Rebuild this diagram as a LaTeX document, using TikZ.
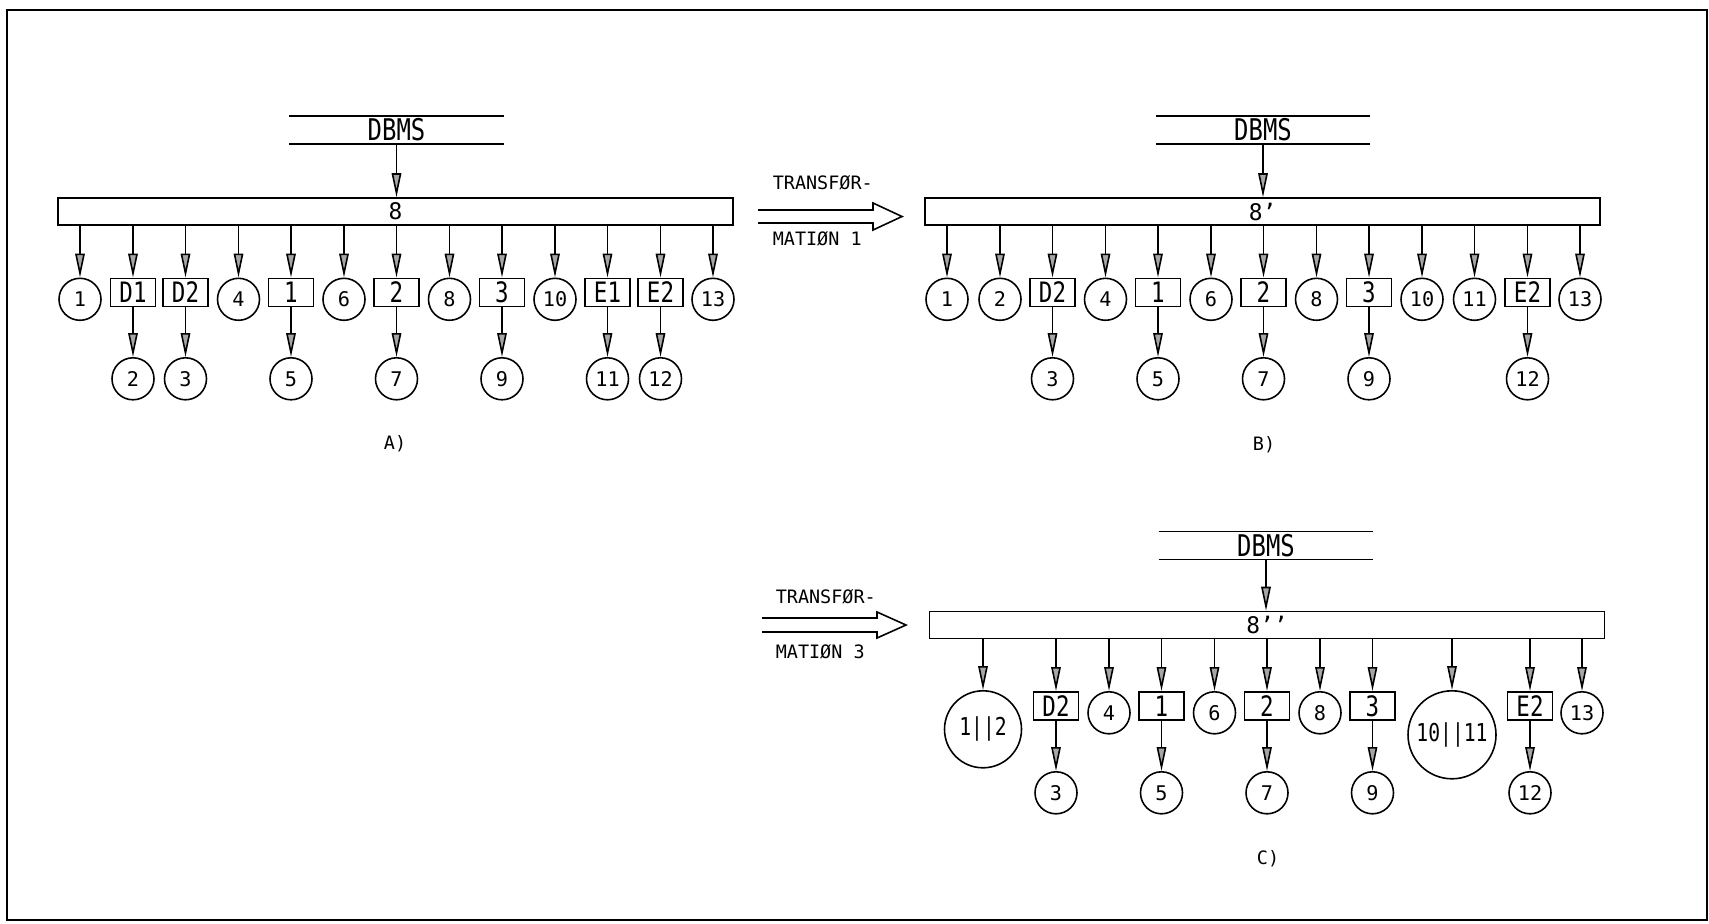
\documentclass[tikz,border=0pt]{standalone}
\usepackage{fontspec}
\usepackage{tikz}
\usetikzlibrary{arrows.meta}
\setmainfont{DejaVu Sans Mono}
\newfontfamily\tallfont{DejaVu Sans Mono}[FakeStretch=0.8]

\begin{document}
\begin{tikzpicture}[line width=0.9pt,
    obj/.style={draw,circle,minimum size=0.84cm,inner sep=0pt,anchor=north,font=\fontsize{11.5}{11.5}\selectfont},
    big/.style={obj,minimum size=1.54cm,font=\tallfont\fontsize{14}{14}\selectfont},
    blk/.style={draw,minimum width=0.9cm,minimum height=0.56cm,inner sep=0pt,anchor=north,font=\tallfont\fontsize{16}{16}\selectfont},
    bus/.style={draw,minimum width=13.5cm,minimum height=0.54cm,inner sep=0pt,font=\fontsize{13}{13}\selectfont},
    store/.style={minimum width=4.26cm,minimum height=0.53cm,inner sep=0pt,font=\tallfont\fontsize{17}{17}\selectfont},
    note/.style={inner sep=0pt,font=\fontsize{10.5}{10.5}\selectfont},
    lnk/.style={-{Triangle[length=0.48cm,width=0.19cm,fill=gray!70]}}]
        \useasboundingbox (0,0) rectangle (34.18,-18.46);
        \draw[line width=1.3pt] (0.14,-0.2) rectangle (34.14,-18.4);

        % A)
        \node[store] (adb) at (7.93,-2.6) {DBMS};
        \draw (adb.north west) -- (adb.north east) (adb.south west) -- (adb.south east);
        \node[bus] (abus) at (7.91,-4.23) {8};
        \draw[lnk] (adb.south) -- (adb.south |- abus.north);
        \node[obj] (a1) at (1.6,-5.55) {1};
        \node[blk] (ad1) at (2.66,-5.55) {D1};
        \node[blk] (ad2) at (3.71,-5.55) {D2};
        \node[obj] (a4) at (4.77,-5.55) {4};
        \node[blk] (ab1) at (5.82,-5.55) {1};
        \node[obj] (a6) at (6.88,-5.55) {6};
        \node[blk] (ab2) at (7.93,-5.55) {2};
        \node[obj] (a8) at (8.99,-5.55) {8};
        \node[blk] (ab3) at (10.04,-5.55) {3};
        \node[obj] (a10) at (11.1,-5.55) {10};
        \node[blk] (ae1) at (12.15,-5.55) {E1};
        \node[blk] (ae2) at (13.21,-5.55) {E2};
        \node[obj] (a13) at (14.26,-5.55) {13};
        \node[obj] (a2) at (2.66,-7.14) {2};
        \node[obj] (a3) at (3.71,-7.14) {3};
        \node[obj] (a5) at (5.82,-7.14) {5};
        \node[obj] (a7) at (7.93,-7.14) {7};
        \node[obj] (a9) at (10.04,-7.14) {9};
        \node[obj] (a11) at (12.15,-7.14) {11};
        \node[obj] (a12) at (13.21,-7.14) {12};
        \draw[lnk] (abus.south -| a1) -- (a1);
        \draw[lnk] (abus.south -| ad1) -- (ad1);
        \draw[lnk] (abus.south -| ad2) -- (ad2);
        \draw[lnk] (abus.south -| a4) -- (a4);
        \draw[lnk] (abus.south -| ab1) -- (ab1);
        \draw[lnk] (abus.south -| a6) -- (a6);
        \draw[lnk] (abus.south -| ab2) -- (ab2);
        \draw[lnk] (abus.south -| a8) -- (a8);
        \draw[lnk] (abus.south -| ab3) -- (ab3);
        \draw[lnk] (abus.south -| a10) -- (a10);
        \draw[lnk] (abus.south -| ae1) -- (ae1);
        \draw[lnk] (abus.south -| ae2) -- (ae2);
        \draw[lnk] (abus.south -| a13) -- (a13);
        \draw[lnk] (ad1) -- (a2);
        \draw[lnk] (ad2) -- (a3);
        \draw[lnk] (ab1) -- (a5);
        \draw[lnk] (ab2) -- (a7);
        \draw[lnk] (ab3) -- (a9);
        \draw[lnk] (ae1) -- (a11);
        \draw[lnk] (ae2) -- (a12);
        \node[note] (la) at (7.9,-8.88) {A)};

        % transformation 1
        \node[note,anchor=west] (t1a) at (15.44,-3.66) {TRANSFØR-};
        \node[note,anchor=west] (t1b) at (15.44,-4.78) {MATIØN 1};
        \draw (15.16,-4.2) -- (17.46,-4.2) -- (17.46,-4.06) -- (18.04,-4.33)
            -- (17.46,-4.6) -- (17.46,-4.46) -- (15.16,-4.46);

        % B)
        \node[store] (bdb) at (25.26,-2.6) {DBMS};
        \draw (bdb.north west) -- (bdb.north east) (bdb.south west) -- (bdb.south east);
        \node[bus] (bbus) at (25.25,-4.23) {8’};
        \draw[lnk] (bdb.south) -- (bdb.south |- bbus.north);
        \node[obj] (b1) at (18.94,-5.55) {1};
        \node[obj] (b2) at (20.0,-5.55) {2};
        \node[blk] (bd2) at (21.05,-5.55) {D2};
        \node[obj] (b4) at (22.11,-5.55) {4};
        \node[blk] (bb1) at (23.16,-5.55) {1};
        \node[obj] (b6) at (24.22,-5.55) {6};
        \node[blk] (bb2) at (25.27,-5.55) {2};
        \node[obj] (b8) at (26.33,-5.55) {8};
        \node[blk] (bb3) at (27.38,-5.55) {3};
        \node[obj] (b10) at (28.44,-5.55) {10};
        \node[obj] (b11) at (29.49,-5.55) {11};
        \node[blk] (be2) at (30.55,-5.55) {E2};
        \node[obj] (b13) at (31.6,-5.55) {13};
        \node[obj] (b3) at (21.05,-7.14) {3};
        \node[obj] (b5) at (23.16,-7.14) {5};
        \node[obj] (b7) at (25.27,-7.14) {7};
        \node[obj] (b9) at (27.38,-7.14) {9};
        \node[obj] (b12) at (30.55,-7.14) {12};
        \draw[lnk] (bbus.south -| b1) -- (b1);
        \draw[lnk] (bbus.south -| b2) -- (b2);
        \draw[lnk] (bbus.south -| bd2) -- (bd2);
        \draw[lnk] (bbus.south -| b4) -- (b4);
        \draw[lnk] (bbus.south -| bb1) -- (bb1);
        \draw[lnk] (bbus.south -| b6) -- (b6);
        \draw[lnk] (bbus.south -| bb2) -- (bb2);
        \draw[lnk] (bbus.south -| b8) -- (b8);
        \draw[lnk] (bbus.south -| bb3) -- (bb3);
        \draw[lnk] (bbus.south -| b10) -- (b10);
        \draw[lnk] (bbus.south -| b11) -- (b11);
        \draw[lnk] (bbus.south -| be2) -- (be2);
        \draw[lnk] (bbus.south -| b13) -- (b13);
        \draw[lnk] (bd2) -- (b3);
        \draw[lnk] (bb1) -- (b5);
        \draw[lnk] (bb2) -- (b7);
        \draw[lnk] (bb3) -- (b9);
        \draw[lnk] (be2) -- (b12);
        \node[note] (lb) at (25.28,-8.9) {B)};

        % transformation 3
        \node[note,anchor=west] (t3a) at (15.5,-11.94) {TRANSFØR-};
        \node[note,anchor=west] (t3b) at (15.5,-13.04) {MATIØN 3};
        \draw (15.24,-12.36) -- (17.54,-12.36) -- (17.54,-12.24) -- (18.12,-12.5)
            -- (17.54,-12.76) -- (17.54,-12.64) -- (15.24,-12.64);

        % C)
        \node[store] (cdb) at (25.32,-10.91) {DBMS};
        \draw (cdb.north west) -- (cdb.north east) (cdb.south west) -- (cdb.south east);
        \node[bus] (cbus) at (25.34,-12.5) {8’’};
        \draw[lnk] (cdb.south) -- (cdb.south |- cbus.north);
        \node[big] (cm12) at (19.66,-13.8) {1||2};
        \node[blk] (cd2) at (21.12,-13.82) {D2};
        \node[obj] (c4) at (22.18,-13.82) {4};
        \node[blk] (cb1) at (23.23,-13.82) {1};
        \node[obj] (c6) at (24.29,-13.82) {6};
        \node[blk] (cb2) at (25.34,-13.82) {2};
        \node[obj] (c8) at (26.4,-13.82) {8};
        \node[blk] (cb3) at (27.45,-13.82) {3};
        \node[big,minimum size=1.76cm] (cm1011) at (29.04,-13.8) {10||11};
        \node[blk] (ce2) at (30.6,-13.82) {E2};
        \node[obj] (c13) at (31.64,-13.82) {13};
        \node[obj] (c3) at (21.12,-15.42) {3};
        \node[obj] (c5) at (23.23,-15.42) {5};
        \node[obj] (c7) at (25.34,-15.42) {7};
        \node[obj] (c9) at (27.45,-15.42) {9};
        \node[obj] (c12) at (30.6,-15.42) {12};
        \draw[lnk] (cbus.south -| cm12) -- (cm12);
        \draw[lnk] (cbus.south -| cd2) -- (cd2);
        \draw[lnk] (cbus.south -| c4) -- (c4);
        \draw[lnk] (cbus.south -| cb1) -- (cb1);
        \draw[lnk] (cbus.south -| c6) -- (c6);
        \draw[lnk] (cbus.south -| cb2) -- (cb2);
        \draw[lnk] (cbus.south -| c8) -- (c8);
        \draw[lnk] (cbus.south -| cb3) -- (cb3);
        \draw[lnk] (cbus.south -| cm1011) -- (cm1011);
        \draw[lnk] (cbus.south -| ce2) -- (ce2);
        \draw[lnk] (cbus.south -| c13) -- (c13);
        \draw[lnk] (cd2) -- (c3);
        \draw[lnk] (cb1) -- (c5);
        \draw[lnk] (cb2) -- (c7);
        \draw[lnk] (cb3) -- (c9);
        \draw[lnk] (ce2) -- (c12);
        \node[note] (lc) at (25.36,-17.18) {C)};
    \end{tikzpicture}
\end{document}
